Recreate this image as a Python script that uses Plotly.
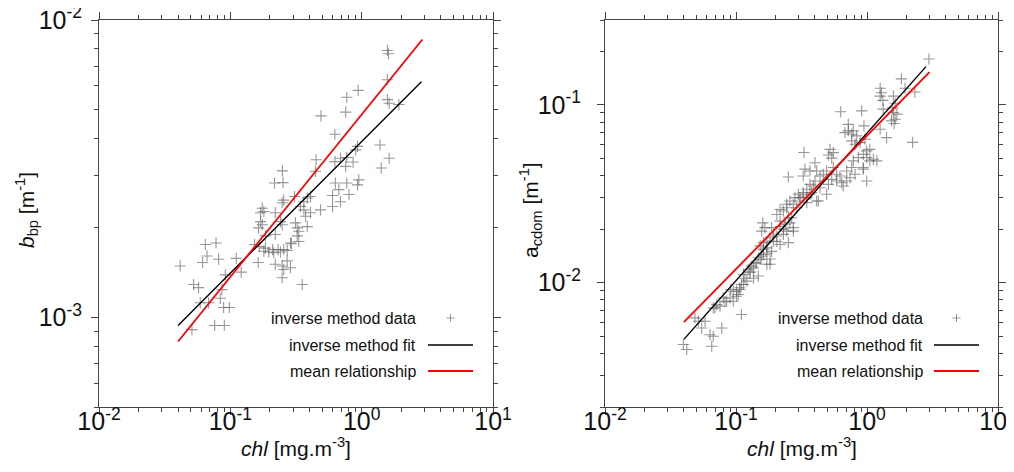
import numpy as np
import plotly.graph_objects as go

# the page body adds an 8 px margin, so the figure is 8 px smaller than the window
W, H = 1006, 464

# ---- left panel: particulate backscattering vs chlorophyll ----
left_chl = [1.57, 1.60, 1.57, 0.94, 0.77, 1.57, 1.62, 1.92, 0.755, 0.49,
            0.625, 1.38, 0.93, 0.90, 1.62, 0.45, 0.625, 0.69, 0.77, 0.86,
            0.755, 1.41, 0.445, 0.249, 0.217, 0.252, 0.63, 0.77, 0.95, 0.93,
            0.67, 0.80, 0.60, 0.69, 0.60, 0.486, 0.408, 0.363, 0.374, 0.385,
            0.408, 0.363, 0.308, 0.342, 0.248, 0.255, 0.175, 0.18, 0.17, 0.22,
            0.313, 0.323, 0.332, 0.323, 0.332, 0.385, 0.287, 0.17, 0.175, 0.164,
            0.241, 0.248, 0.185, 0.22, 0.292, 0.153, 0.166, 0.185, 0.21, 0.231,
            0.255, 0.271, 0.241, 0.214, 0.196, 0.18, 0.271, 0.163, 0.22, 0.248,
            0.255, 0.287, 0.248, 0.353, 0.111, 0.0814, 0.0645, 0.0778, 0.0664, 0.0615,
            0.0415, 0.121, 0.0916, 0.0525, 0.0573, 0.0864, 0.0839, 0.059, 0.0683, 0.0889,
            0.0983, 0.0759, 0.09, 0.051]
left_bbp = [7.9e-3, 7.7e-3, 6.3e-3, 5.8e-3, 5.5e-3, 5.4e-3, 5.25e-3, 5.2e-3, 4.9e-3, 4.76e-3,
            4.13e-3, 3.8e-3, 3.76e-3, 3.66e-3, 3.43e-3, 3.39e-3, 3.34e-3, 3.43e-3, 3.45e-3, 3.33e-3,
            3.22e-3, 3.18e-3, 3.1e-3, 3.11e-3, 2.83e-3, 2.84e-3, 2.83e-3, 2.83e-3, 2.9e-3, 2.79e-3,
            2.69e-3, 2.59e-3, 2.57e-3, 2.45e-3, 2.36e-3, 2.3e-3, 2.25e-3, 2.3e-3, 2.19e-3, 2.52e-3,
            2.55e-3, 2.45e-3, 2.55e-3, 2.36e-3, 2.43e-3, 2.48e-3, 2.33e-3, 2.27e-3, 2.25e-3, 2.25e-3,
            2.08e-3, 2.0e-3, 1.95e-3, 1.88e-3, 1.80e-3, 2.02e-3, 1.78e-3, 2.1e-3, 2.05e-3, 2.0e-3,
            2.1e-3, 2.05e-3, 1.88e-3, 1.9e-3, 1.77e-3, 1.76e-3, 1.73e-3, 1.71e-3, 1.69e-3, 1.69e-3,
            1.69e-3, 1.68e-3, 1.66e-3, 1.65e-3, 1.66e-3, 1.67e-3, 1.55e-3, 1.53e-3, 1.51e-3, 1.49e-3,
            1.45e-3, 1.47e-3, 1.36e-3, 1.29e-3, 1.58e-3, 1.57e-3, 1.76e-3, 1.78e-3, 1.61e-3, 1.53e-3,
            1.49e-3, 1.42e-3, 1.39e-3, 1.29e-3, 1.26e-3, 1.24e-3, 1.16e-3, 1.12e-3, 1.12e-3, 1.08e-3,
            1.08e-3, 9.4e-4, 9.4e-4, 9.1e-4]

bbp_fit_chl = [0.04, 2.85]
bbp_fit = [9.4e-4, 6.2e-3]
bbp_mean_chl = [0.04, 2.9]
bbp_mean = [8.3e-4, 8.6e-3]

# ---- right panel: CDOM absorption vs chlorophyll ----
right_chl = [2.97, 1.83, 1.26, 1.29, 1.26, 1.32, 1.59, 1.64, 1.57, 1.59,
             1.69, 1.64, 1.61, 2.32, 1.95, 1.26, 1.41, 2.23, 0.630, 0.911,
             0.720, 0.679, 0.786, 0.834, 0.764, 0.885, 0.948, 0.966, 0.810, 0.522,
             0.553, 0.507, 0.538, 0.330, 0.995, 1.05, 0.937, 0.995, 1.12, 1.19,
             1.05, 0.786, 0.764, 0.700, 0.810, 0.937, 0.995, 0.401, 0.336, 0.367,
             0.326, 0.413, 0.438, 0.401, 0.251, 0.492, 0.553, 0.587, 0.622, 0.587,
             0.641, 0.538, 0.507, 0.492, 0.425, 0.438, 0.367, 0.347, 0.326, 0.299,
             0.282, 0.258, 0.308, 0.274, 0.244, 0.217, 0.291, 0.347, 0.378, 0.700,
             0.742, 0.659, 0.389, 0.230, 0.205, 0.251, 0.258, 0.237, 0.217, 0.266,
             0.160, 0.157, 0.166, 0.187, 0.217, 0.244, 0.274, 0.230, 0.205, 0.182,
             0.193, 0.217, 0.251, 0.172, 0.187, 0.162, 0.153, 0.144, 0.172, 0.182,
             0.136, 0.128, 0.148, 0.121, 0.114, 0.107, 0.0953, 0.101, 0.090, 0.110,
             0.0849, 0.080, 0.0713, 0.0671, 0.0755, 0.0824, 0.104, 0.107, 0.110, 0.117,
             0.114, 0.128, 0.136, 0.124, 0.132, 0.140, 0.148, 0.157, 0.162, 0.172,
             0.182, 0.153, 0.162, 0.172, 0.193, 0.205, 0.230, 0.274, 0.244,
             0.308, 0.326, 0.347, 0.367, 0.413, 0.0486, 0.0516, 0.0547, 0.0580, 0.0633,
             0.0653, 0.0671, 0.0778, 0.0396, 0.0421,
             0.0691, 0.0953, 0.101, 0.091, 0.464, 0.859, 0.937,
             1.33, 1.54, 0.720, 0.764]
right_acdom = [0.181, 0.140, 0.124, 0.117, 0.112, 0.106, 0.112, 0.102, 0.0962, 0.0906,
               0.0887, 0.0830, 0.0785, 0.118, 0.124, 0.0729, 0.0654, 0.0615, 0.0914, 0.0925,
               0.0777, 0.0698, 0.0714, 0.0669, 0.0627, 0.0613, 0.0762, 0.0641, 0.0601, 0.0562,
               0.0539, 0.0522, 0.0502, 0.0540, 0.0551, 0.0562, 0.0527, 0.0505, 0.0494, 0.0484,
               0.0484, 0.0484, 0.0444, 0.0425, 0.0407, 0.0435, 0.0373, 0.0473, 0.0435, 0.0425,
               0.0398, 0.0425, 0.0398, 0.0373, 0.0393, 0.0425, 0.0444, 0.0407, 0.0398, 0.0373,
               0.0365, 0.0381, 0.0357, 0.0314, 0.0288, 0.0342, 0.0357, 0.0335, 0.0321, 0.0314,
               0.0301, 0.0288, 0.0288, 0.0276, 0.0264, 0.0258, 0.0264, 0.0301, 0.0321, 0.0373,
               0.0389, 0.0350, 0.0350, 0.0253, 0.0242, 0.0232, 0.0217, 0.0213, 0.0222, 0.0232,
               0.0217, 0.0195, 0.0204, 0.0204, 0.0207, 0.0195, 0.0195, 0.0187, 0.0183, 0.0179,
               0.0171, 0.0164, 0.0168, 0.0157, 0.0150, 0.0144, 0.0135, 0.0129, 0.0127, 0.0127,
               0.0121, 0.0116, 0.0109, 0.0102, 0.00977, 0.00916, 0.00896, 0.00839, 0.00821, 0.00662,
               0.00787, 0.00821, 0.00753, 0.00721, 0.00738, 0.00782, 0.00859, 0.00936, 0.00977, 0.0106,
               0.0111, 0.0114, 0.0106, 0.0119, 0.0124, 0.0129, 0.0138, 0.0141, 0.0154, 0.0147,
               0.0136, 0.0161, 0.0168, 0.0171, 0.0188, 0.0170, 0.0200, 0.0204, 0.0276,
               0.0301, 0.0307, 0.0282, 0.0314, 0.0288, 0.00634, 0.00607, 0.00556, 0.00607, 0.00510,
               0.00439, 0.00500, 0.00556, 0.00449, 0.00421,
               0.00721, 0.00787, 0.00896, 0.00916, 0.0407, 0.0505, 0.0444,
               0.0946, 0.0813, 0.0714, 0.0684]

acdom_fit_chl = [0.04, 2.82]
acdom_fit = [4.8e-3, 0.164]
acdom_mean_chl = [0.04, 3.0]
acdom_mean = [6.0e-3, 0.153]

# decade tick labels written the way the original shows them
tick_default = ["10<sup>\u22124</sup>", "10<sup>\u22123</sup>", "10<sup>\u22122</sup>",
                "10<sup>\u22121</sup>", "1", "10"]
tick_text = ["10<sup>-4</sup>", "10<sup>-3</sup>", "10<sup>-2</sup>",
             "10<sup>-1</sup>", "10<sup>0</sup>", "10<sup>1</sup>"]

legend_labels = ["inverse method data", "inverse method fit", "mean relationship"]

FONT = "Liberation Sans, Arial, sans-serif"
AX = "#444444"
MARK = "rgba(95,95,95,0.65)"

fig = go.Figure()

marker_style = dict(symbol="cross-thin-open", size=8, color=MARK,
                    line=dict(color=MARK, width=1.1))

fig.add_trace(go.Scatter(x=left_chl, y=left_bbp, mode="markers", xaxis="x", yaxis="y",
                         marker=marker_style, showlegend=False))
fig.add_trace(go.Scatter(x=bbp_fit_chl, y=bbp_fit, mode="lines", xaxis="x", yaxis="y",
                         line=dict(color="black", width=1.4), showlegend=False))
fig.add_trace(go.Scatter(x=bbp_mean_chl, y=bbp_mean, mode="lines", xaxis="x", yaxis="y",
                         line=dict(color="#ff0000", width=1.8), showlegend=False))

fig.add_trace(go.Scatter(x=right_chl, y=right_acdom, mode="markers", xaxis="x2", yaxis="y2",
                         marker=marker_style, showlegend=False))
fig.add_trace(go.Scatter(x=acdom_fit_chl, y=acdom_fit, mode="lines", xaxis="x2", yaxis="y2",
                         line=dict(color="black", width=1.4), showlegend=False))
fig.add_trace(go.Scatter(x=acdom_mean_chl, y=acdom_mean, mode="lines", xaxis="x2", yaxis="y2",
                         line=dict(color="#ff0000", width=1.8), showlegend=False))

axis_common = dict(type="log", showline=True, linecolor=AX, linewidth=1, mirror="allticks",
                   ticks="outside", ticklen=7, tickwidth=1, tickcolor=AX,
                   showgrid=False, zeroline=False, automargin=False,
                   tickmode="linear", tick0=0, dtick=1,
                   exponentformat="power", showexponent="all",
                   labelalias=dict(zip(tick_default, tick_text)),
                   ticklabeloverflow="allow",
                   tickfont=dict(family=FONT, size=20, color="#111111"),
                   minor=dict(ticks="outside", ticklen=4, tickcolor=AX, dtick="D1",
                              showgrid=False))

# plot area spans x 99..998 and y 20..407 in window pixels (figure sits at +8,+8)
OFF = 8
ML, MT = 99 - OFF, 20 - OFF
MR, MB = W - (998 - OFF), H - (407 - OFF)
PW = W - ML - MR
PH = H - MT - MB


def xdom(a, b):
    return [(a - 99) / PW, (b - 99) / PW]


def px(x):
    return (x - 99) / PW


def py(y):
    return (407 - y) / PH


fig.update_layout(
    width=W, height=H,
    margin=dict(l=ML, r=MR, t=MT, b=MB, pad=0),
    paper_bgcolor="white", plot_bgcolor="white",
    font=dict(family=FONT, color="#111111"),
    xaxis=dict(axis_common, domain=xdom(99, 493), range=[-2, 1], anchor="y",
               ticklabelstandoff=-14),
    yaxis=dict(axis_common, domain=[0, 1], range=[np.log10(5e-4), -2], anchor="x",
               ticklabelstandoff=5),
    xaxis2=dict(axis_common, domain=xdom(605, 998), range=[-2, 1], anchor="y2",
                ticklabelstandoff=-14),
    yaxis2=dict(axis_common, domain=[0, 1], range=[np.log10(0.002), np.log10(0.3)],
                anchor="x2", ticklabelstandoff=12),
)

# axis titles
title_font = dict(family=FONT, size=21, color="#111111")
annotations = [
    dict(text="<i>chl</i> [mg.m<sup>-3</sup>]", x=px(296), y=py(447)),
    dict(text="<i>chl</i> [mg.m<sup>-3</sup>]", x=px(801.5), y=py(447)),
    dict(text="<i>b</i><sub>bp</sub> [m<sup>-1</sup>]", x=px(27), y=py(210), textangle=-90),
    dict(text="a<sub>cdom</sub> [m<sup>-1</sup>]", x=px(531), y=py(210), textangle=-90),
]
for a in annotations:
    fig.add_annotation(xref="paper", yref="paper", showarrow=False,
                       xanchor="center", yanchor="middle", font=title_font, **a)

# hand-drawn legends (text left of the symbol, as in the original)
leg_font = dict(family=FONT, size=16, color="#111111")
for text_right, sym_left in [(418, 428), (925, 934)]:
    sym_c = sym_left + 22.5
    for label, row_y in zip(legend_labels, [318, 345, 371]):
        fig.add_annotation(xref="paper", yref="paper", showarrow=False, text=label,
                           x=px(text_right), y=py(row_y), xanchor="right",
                           yanchor="middle", font=leg_font)
    fig.add_shape(type="line", xref="paper", yref="paper",
                  x0=px(sym_c - 4), x1=px(sym_c + 4), y0=py(318), y1=py(318),
                  line=dict(color=MARK, width=1))
    fig.add_shape(type="line", xref="paper", yref="paper",
                  x0=px(sym_c), x1=px(sym_c), y0=py(314), y1=py(322),
                  line=dict(color=MARK, width=1))
    fig.add_shape(type="line", xref="paper", yref="paper",
                  x0=px(sym_left), x1=px(sym_left + 45), y0=py(345), y1=py(345),
                  line=dict(color="black", width=1.4))
    fig.add_shape(type="line", xref="paper", yref="paper",
                  x0=px(sym_left), x1=px(sym_left + 45), y0=py(371), y1=py(371),
                  line=dict(color="#ff0000", width=1.8))

fig.write_html("out.html")
